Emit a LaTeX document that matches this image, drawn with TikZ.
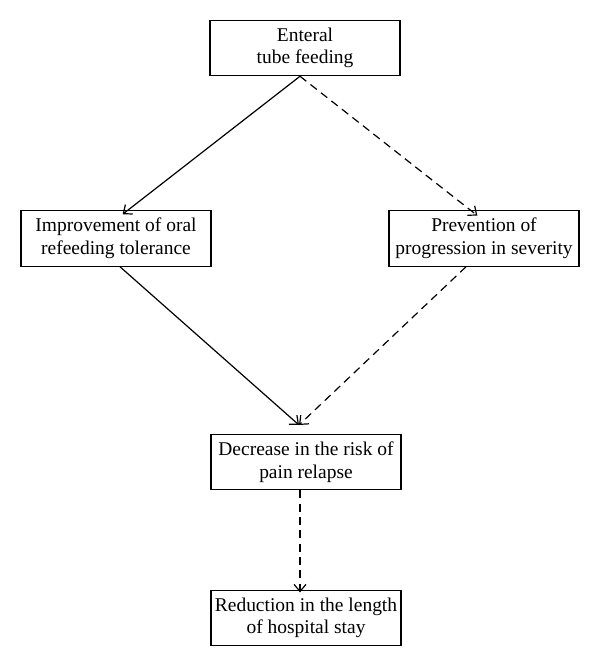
\documentclass[tikz,border=0pt]{standalone}
\usepackage{fontspec}
\setmainfont{Liberation Serif}
\usetikzlibrary{arrows.meta}

\tikzset{every picture/.style={line width=0.75pt}}
\tikzset{
  stepbox/.style={draw, line width=0.9pt, minimum width=142.5pt, minimum height=41.5pt,
    inner sep=0.75pt, align=center, font=\fontsize{14.6}{17}\selectfont},
  solidarr/.style={-{Straight Barb[angle=80:7pt]}, line width=0.9pt},
  dasharr/.style={solidarr, dash pattern=on 6pt off 4pt}
}

\begin{document}
\begin{tikzpicture}[x=0.75pt,y=0.75pt,yscale=-1,xscale=1]
	\useasboundingbox (0,0) rectangle (600,667);
	
	% Boxes
	\node [stepbox] (feed) at (305,48) {Enteral\\tube feeding};
	\node [stepbox] (oral) at (116,238.5) {Improvement of oral\\refeeding tolerance};
	\node [stepbox] (prev) at (484,238.5) {Prevention of\\progression in severity};
	\node [stepbox] (relapse) at (306,462) {Decrease in the risk of\\pain relapse};
	\node [stepbox] (stay) at (306,618) {Reduction in the length\\of hospital stay};
	
	% meeting point above the middle box
	\coordinate (meet) at (299,425);
	
	% Arrows
	\draw [solidarr] ([xshift=-3.75pt]feed.south) -- ([xshift=5pt,yshift=3pt]oral.north);
	\draw [dasharr] ([xshift=-3.75pt]feed.south) -- ([xshift=-5pt,yshift=4pt]prev.north);
	\draw [solidarr] ([xshift=3pt]oral.south) -- (meet);
	\draw [dasharr] ([xshift=-13.5pt]prev.south) -- (meet);
	\draw [dasharr] ([xshift=-4.5pt]relapse.south) -- ([xshift=-4.5pt,yshift=2pt]stay.north);
	
\end{tikzpicture}
\end{document}
